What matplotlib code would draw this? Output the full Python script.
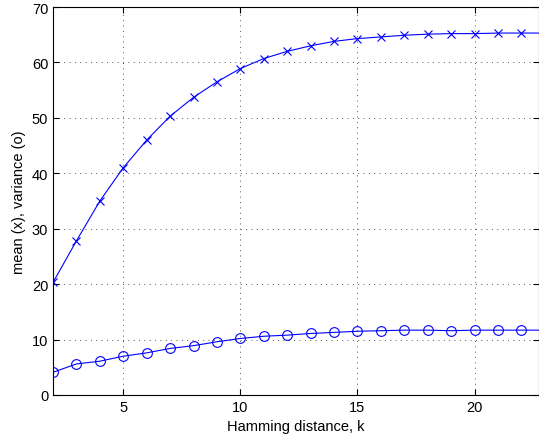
import matplotlib.pyplot as plt

k = [2, 3, 4, 5, 6, 7, 8, 9, 10, 11, 12, 13, 14, 15, 16, 17, 18, 19, 20, 21, 22]
mean_vals = [20.3, 27.8, 35.0, 41.0, 46.0, 50.3, 53.7, 56.5, 58.9, 60.7, 62.0,
             63.0, 63.8, 64.3, 64.6, 64.9, 65.1, 65.2, 65.2, 65.3, 65.3]
var_vals = [4.1, 5.6, 6.1, 7.0, 7.6, 8.4, 8.9, 9.6, 10.2, 10.6, 10.8,
            11.1, 11.3, 11.5, 11.6, 11.7, 11.7, 11.6, 11.7, 11.7, 11.7]

# the curves run on past the last marker to the right edge
line_k = k + [23]
line_mean = mean_vals + [65.3]
line_var = var_vals + [11.7]

plt.rcParams["font.family"] = ["Liberation Sans", "DejaVu Sans"]
plt.rcParams["font.size"] = 10.5

fig = plt.figure(figsize=(5.39, 4.39), dpi=100)
ax = fig.add_axes([53 / 539, 43 / 439, 486 / 539, 388 / 439])

ax.plot(line_k, line_mean, color="blue", linewidth=0.8)
ax.plot(line_k, line_var, color="blue", linewidth=0.8)
ax.plot(k, mean_vals, "x", color="blue", markersize=6, markeredgewidth=0.8)
ax.plot(k, var_vals, "o", color="blue", markersize=7, markerfacecolor="none",
        markeredgewidth=0.8)

ax.set_xlim(2, 22.75)
ax.set_ylim(0, 70)
ax.set_xticks([5, 10, 15, 20])
ax.set_yticks(range(0, 71, 10))
ax.tick_params(direction="in", top=True, right=True, length=4)
ax.grid(True, linestyle=(0, (1, 4.5)), color="#555555", linewidth=0.7)
ax.set_xlabel("Hamming distance, k")
ax.set_ylabel("mean (x), variance (o)")

fig.savefig("out.png", dpi=100)
